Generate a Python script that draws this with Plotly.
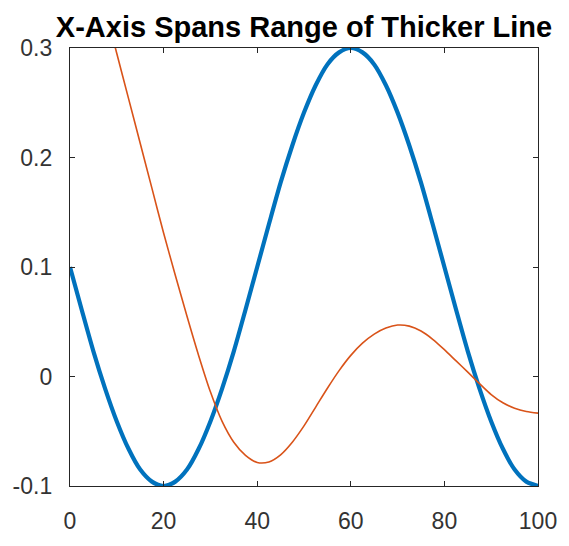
import plotly.graph_objects as go

# Thick line (blue)
x_thick = [0, 2.5, 5, 7.5, 10, 12.5, 15, 17.5, 20, 22.5, 25, 27.5, 30, 32.5, 35, 37.5, 40,
           42.5, 45, 47.5, 50, 52.5, 55, 57.5, 60, 62.5, 65, 67.5, 70, 72.5, 75, 77.5, 80,
           82.5, 85, 87.5, 90, 92.5, 95, 97.5, 100]
y_thick = [0.1, 0.061, 0.023, -0.011, -0.041, -0.066, -0.085, -0.096, -0.1, -0.096, -0.085,
           -0.066, -0.041, -0.011, 0.023, 0.061, 0.1, 0.139, 0.177, 0.211, 0.241, 0.266, 0.285,
           0.296, 0.3, 0.296, 0.285, 0.266, 0.241, 0.211, 0.177, 0.139, 0.1, 0.061, 0.023,
           -0.011, -0.041, -0.066, -0.085, -0.096, -0.1]

# Thin line (orange)
x_thin = [0, 2.5, 5, 7.5, 10, 12.5, 15, 17.5, 20, 22.5, 25, 27.5, 30, 32.5, 35, 37.5, 40,
          42.5, 45, 47.5, 50, 52.5, 55, 57.5, 60, 62.5, 65, 67.5, 70, 72.5, 75, 77.5, 80,
          82.5, 85, 87.5, 90, 92.5, 95, 97.5, 100]
y_thin = [0.459, 0.418, 0.377, 0.336, 0.295, 0.254, 0.213, 0.172, 0.131, 0.0925, 0.055, 0.019,
          -0.014, -0.041, -0.060, -0.072, -0.0785, -0.078, -0.0715, -0.060, -0.0451, -0.0279,
          -0.0107, 0.0054, 0.0193, 0.0304, 0.0387, 0.0442, 0.047, 0.046, 0.0415, 0.034, 0.0245,
          0.0142, 0.004, -0.0065, -0.0165, -0.024, -0.029, -0.032, -0.0335]

title_text = "X-Axis Spans Range of Thicker Line"
x_ticks = [0, 20, 40, 60, 80, 100]
y_ticks = [-0.1, 0, 0.1, 0.2, 0.3]
y_ticklabels = ["-0.1", "0", "0.1", "0.2", "0.3"]

fig = go.Figure()
fig.add_trace(go.Scatter(x=x_thick, y=y_thick, mode="lines",
                         line=dict(color="#0072BD", width=4.2, shape="spline", smoothing=0.8),
                         showlegend=False))
fig.add_trace(go.Scatter(x=x_thin, y=y_thin, mode="lines",
                         line=dict(color="#D95319", width=1.6, shape="spline", smoothing=0.8),
                         showlegend=False))

axis_common = dict(showgrid=False, zeroline=False, showline=True, linecolor="#262626", linewidth=1.3,
                   mirror="ticks", ticks="inside", ticklen=5, tickcolor="#262626", tickwidth=1,
                   tickfont=dict(family="Liberation Sans, Arial", size=23, color="#333333"))

fig.update_layout(
    width=569, height=546,
    margin=dict(l=70, r=25, t=48, b=44),
    paper_bgcolor="white", plot_bgcolor="white",
    title=dict(text="<b>" + title_text + "</b>", x=0.5, xref="paper", xanchor="center",
               y=1, yref="paper", yanchor="bottom", pad=dict(b=11),
               font=dict(family="Liberation Sans, Arial", size=29, color="black")),
    xaxis=dict(range=[0, 100], tickvals=x_ticks, ticklabelstandoff=14, **axis_common),
    yaxis=dict(range=[-0.1, 0.3], tickvals=y_ticks, ticktext=y_ticklabels, ticklabelstandoff=12, **axis_common),
)

fig.write_html("out.html")
